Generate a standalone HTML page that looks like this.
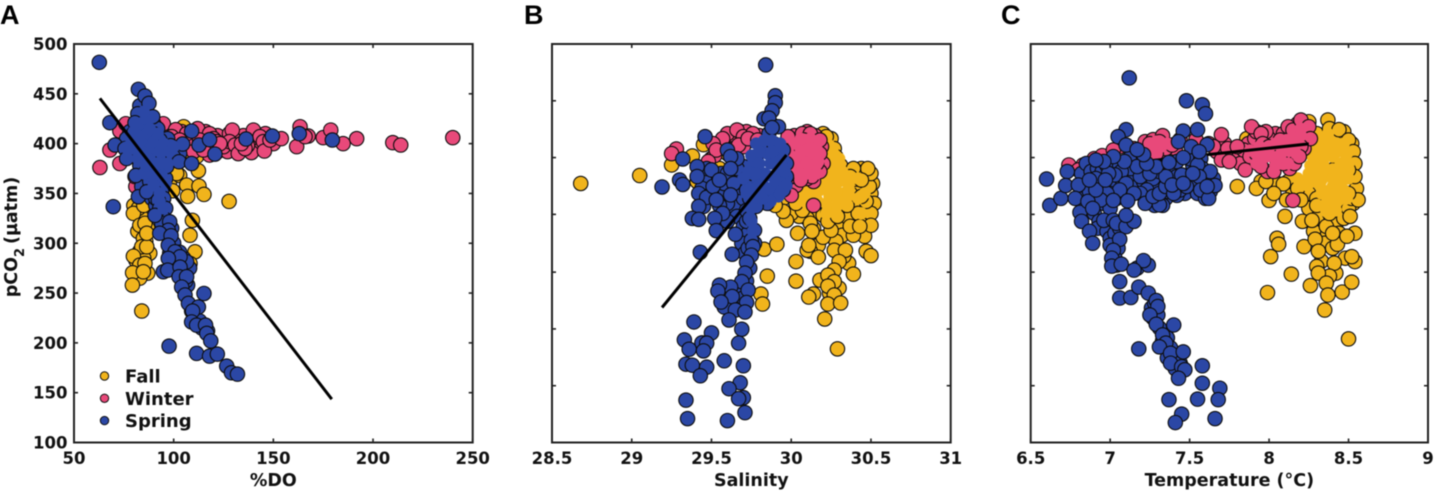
<!DOCTYPE html>
<html lang="en">
<head>
<meta charset="utf-8">
<title>pCO2 versus DO, salinity and temperature</title>
<style>
html,body{margin:0;padding:0;background:#fff;width:1434px;height:491px;overflow:hidden}
svg{display:block;filter:blur(.45px)}
text{font-family:"DejaVu Sans","Liberation Sans",sans-serif;font-weight:700;fill:#111}
.tick{font-size:16.5px}
.label{font-size:17.5px}
.legend{font-size:18px}
.letter{font-family:"Liberation Sans",sans-serif;font-size:27px;fill:#000}
</style>
</head>
<body>
<svg id="chart" xmlns="http://www.w3.org/2000/svg" width="1434" height="491" viewBox="0 0 1434 491"></svg>
<script>
/* Shared axes values */
const seasonNames = ['Fall','Winter','Spring'];
const yTicksLabeled = [100,150,200,250,300,350,400,450,500];
const yTicksUnlabeled = [100,157,214,271,329,386,443,500];
const xTicksDO = [50,100,150,200,250];
const xTicksSalinity = [28.5,29,29.5,30,30.5,31];
const xTicksTemperature = [6.5,7,7.5,8,8.5,9];
const xTickTextSalinity = ['28.5','29','29.5','30','30.5','31'];
const xTickTextTemperature = ['6.5','7','7.5','8','8.5','9'];

/* Panel A: [%DO, pCO2] */
const doFall = [[83,340],[86,332],[80,338],[88,328],[84,326],[87,315],[82,312],[86,302],[83,292],[88,290],[81,283],[87,270],[83,265],[85,285],[90,372],[95,370],[100,378],[105,385],[108,392],[112,395],[98,362],[103,368],[88,345],[112.4,372.8],[106.5,358.4],[112.7,357.4],[107,347],[115.2,349],[99.5,352.7],[127.8,342],[109.4,323],[108.2,308],[110.7,291.5],[108.2,279.7],[82.3,335],[79.8,330],[85,338],[83,318],[85.6,320],[84.8,305],[84,296.5],[86.5,296.5],[79.8,287],[83,278],[85.6,279.7],[79.4,270.4],[84.8,271.4],[79.3,258],[84,232],[86.5,310],[103,412],[105,417],[111.5,387],[101.5,370]];
const doWinter = [[97,412],[104,412],[110,412],[116,412],[122,408],[128,410],[135,408],[142,400],[138,403],[126,395],[122,392],[118,395],[105,395],[108,405],[112,415],[92,416],[88,418],[84,420],[78,414],[74,402],[150,400],[146,410],[139,391],[130,405],[133,393],[137,398],[127,392],[63,376],[68,393.6],[73,380],[73,412.7],[76,420],[81,357],[80.6,367],[94.8,420],[101,414],[99,407],[110,400],[118,410],[120,405],[121.6,402],[118,388.5],[110,392],[125,397],[129.4,413.6],[128,402],[130.8,398.6],[132.4,390],[135.8,395],[134,400],[140,413.6],[143.3,407],[145,402],[145.5,392.6],[148.3,403.6],[154,405],[161.7,397],[163.4,417],[167.5,407.6],[165.9,407],[175,406],[178.8,413.6],[185,400],[191.8,405],[209.9,401],[213.9,398.6],[240,406],[106.5,410],[113,403.6],[116.6,397],[123.2,400],[103,403.6],[114.9,393.6]];
const doSpring = [[78,402],[80,390],[83,378],[78,412],[84,425],[86,435],[83,438],[90,420],[92,415],[96,395],[97,405],[100,392],[103,390],[96,365],[90,355],[94,352],[89,345],[95,345],[91,338],[96,335],[92,330],[95,325],[99,315],[94,320],[100,300],[99,283],[101,278],[105,285],[104,270],[107,258],[106,262],[109,232],[110,228],[113,222],[114,215],[117,212],[104,275],[108,275],[103,291],[98,290],[87,365],[84,357],[91,345],[79.8,410],[84.8,417],[89.8,410],[93.1,403.6],[84.8,400],[89.8,390],[94.8,387],[84.8,387],[81.4,397],[86.5,373.5],[91.5,373.5],[96.5,377],[99.8,387],[88,362],[93,360],[76.4,405],[62.7,481.6],[68,421],[69.7,336.7],[70.6,398.6],[75.6,395],[76.4,385],[82.3,454.5],[85.6,447.8],[87.6,440.4],[89.5,427],[82,430],[80.6,421],[81,368],[82.3,346.7],[109,412.6],[104.5,399.6],[98.5,398],[102.7,381.8],[109,380],[112.7,398.6],[118,404],[120.7,389.5],[136.3,404.6],[149.5,407.6],[163,410],[179.6,403.6],[91.5,350.7],[86.5,351.7],[92.3,343],[93,335],[90.6,328],[98,321.6],[97.3,313],[93,310],[98.7,307.5],[97.3,298],[100.7,291.5],[106.5,281.4],[103.2,286.4],[97.3,284.8],[94.8,271.4],[97,273],[103.2,276],[102.7,266.4],[106.5,266.4],[104,256],[105.7,248],[107.4,239.6],[112.4,236],[115.2,249.6],[109.5,232],[109,221],[111.5,217.8],[116,217.8],[116.6,209.5],[118.6,202],[97.7,196.7],[111.5,189.4],[118,186.7],[121.9,188.7],[126.6,176.7],[129,170],[132,168.6]];
const doSpringCore = [[83,420],[86.5,410],[84,400],[88,395],[90,402],[87,385],[91,380],[84,392],[82,408],[93,392],[89,372],[86,425],[94,368],[91,362],[80,395],[78,398],[95,400],[93,380],[97,380],[88,368],[90,358],[93,350],[93,342],[95,335],[85,370],[82,385],[92,410],[88,415],[85,432],[98,392],[76,396],[86,378],[80,412],[100,397],[96,360]];

/* Panel B: [salinity, pCO2] */
const salFall = [[30.4,360],[30.44,375],[30.41,350],[30.46,337],[30.48,325],[30.45,318],[30.41,340],[30.34,345],[30.33,330],[30.3,318],[30.26,328],[30.16,330],[30.1,325],[30.05,327],[30,330],[30.14,315],[30.2,328],[30.36,325],[30.32,308],[30.28,302],[30.17,298],[30.12,292],[30.36,280],[30.33,287],[30.22,262],[30.3,255],[30.24,250],[30.51,360],[30.5,350],[30.52,340],[30.46,372],[30.35,372],[30.25,405],[30.2,410],[30.27,395],[30.31,378],[29.9,345],[29.86,340],[30.02,345],[29.95,345],[29.5,385],[29.55,375],[29.6,390],[28.68,360],[29.05,368],[29.25,378.6],[29.38,387.6],[29.45,399],[29.41,362],[29.83,294],[29.91,299],[29.85,267],[29.81,249],[29.82,239],[30.04,310],[30.1,293],[30.11,298],[30.03,281.6],[30.03,262],[30.17,286],[30.2,306],[30.12,320],[30.13,312],[30.18,263],[30.27,293],[30.34,293],[30.3,281.6],[30.27,273],[30.23,268],[30.27,261.5],[30.23,257],[30.14,249],[30.11,246],[30.27,248],[30.23,239],[30.31,240],[30.21,224],[30.29,194],[30.39,269],[30.47,292],[30.5,287.6],[30.46,307],[30.39,308],[30.37,317],[30.25,313],[30.42,330],[30.5,330],[30.5,318],[30.47,342],[30.49,357],[30.5,370],[30.48,375],[30.39,375],[30.37,367],[30.37,350],[30.35,338],[30.23,332],[30.23,322],[29.97,323],[29.95,332],[29.9,338],[30.07,333],[30.03,340],[30.22,407],[30.28,387],[30.44,347],[30.44,363.5],[30.29,327],[30.43,317]];
const salFallCore = [[30.26,373.6],[30.26,360],[30.18,353.5],[30.31,350],[30.33,363.5],[30.24,347],[30.16,343.5],[30.1,350],[30.18,367],[30.24,383.6],[30.29,338],[30.05,345],[30.1,340],[30.15,352],[30.22,340],[30.29,345],[30.32,372],[30.22,375],[30.27,380],[30.3,385],[30.15,360],[30.1,360],[30.05,355],[30.2,360],[30.36,355],[30.34,343],[30.28,330],[30.22,330],[30.38,365],[30.26,392],[30.24,398],[30.22,402],[30.42,365],[30.42,345],[30.46,350],[30.44,330],[30.24,366],[30.28,352],[30.22,358],[30.35,365],[30.3,362],[30.36,348],[30.25,355],[30.27,367]];
const salWinter = [[29.6,402],[29.63,409],[29.6,410],[29.68,412],[29.72,412],[29.55,400],[29.52,388],[29.76,403],[29.8,408],[29.64,395],[29.7,397],[29.99,400],[30.02,408],[30.15,408],[30.1,412],[30.07,410],[30.19,397],[30.2,380],[30.18,372],[30.14,362],[30.1,365],[30.03,358],[29.98,365],[29.98,385],[29.28,394.6],[29.25,390],[29.66,413.7],[29.57,405],[29.51,400],[29.53,393.6],[29.48,382],[29.7,407],[29.76,410],[29.67,398.6],[29.73,405],[29.79,403.6],[29.98,407],[30.12,410],[30.18,403.6],[30,348],[30.14,338],[30.03,367],[30.01,393.6],[30.06,397],[30.12,397],[30.18,390],[30.16,380],[30.1,373.6],[30.03,377],[30.01,370],[30.08,403.6],[30.13,367],[30.06,363.5]];
const salWinterCore = [[30.1,387],[30.06,383.6],[30.14,387],[30.1,393.6],[30.09,378.6],[30.02,400],[30.06,405],[30.12,405],[30.16,400],[30.17,392],[30.02,385],[30.02,372],[30.06,372],[30.14,375],[30.17,382],[30.1,380],[30.06,392],[30.16,370],[30.1,370],[30.13,395]];
const salSpring = [[29.51,367],[29.56,370],[29.67,367],[29.7,377],[29.64,350],[29.56,347],[29.64,337],[29.66,327],[29.6,322],[29.7,317],[29.73,310],[29.69,300],[29.71,290],[29.58,360],[29.6,370],[29.66,375],[29.66,385],[29.7,345],[29.68,356],[29.6,340],[29.55,338],[29.46,362],[29.47,375],[29.44,355],[29.45,337],[29.5,350],[29.72,365],[29.74,345],[29.72,322],[29.77,300],[29.73,295],[29.74,275],[29.66,250],[29.72,262],[29.7,245],[29.6,247],[29.57,250],[29.58,236],[29.83,425],[29.86,410],[29.89,418],[29.84,479],[29.9,448],[29.9,441],[29.88,433],[29.86,425.6],[29.92,417],[29.88,416],[29.46,407],[29.32,384.6],[29.19,356.5],[29.3,363.5],[29.32,359],[29.6,393.6],[29.62,387],[29.5,373.6],[29.41,377],[29.41,367],[29.62,375],[29.42,350],[29.47,346],[29.42,337],[29.38,325],[29.42,324],[29.51,357],[29.55,363.5],[29.64,360],[29.62,348.5],[29.72,353.5],[29.53,343.5],[29.57,330],[29.52,325],[29.53,312.7],[29.65,309],[29.43,291],[29.63,289],[29.72,333],[29.74,325],[29.77,313],[29.75,303],[29.76,296.6],[29.75,288],[29.72,281],[29.71,270],[29.69,261.5],[29.62,256],[29.55,258],[29.54,252],[29.73,253],[29.63,246.5],[29.56,241],[29.72,240.5],[29.65,233],[29.71,231],[29.61,223],[29.69,213.7],[29.39,221],[29.5,210],[29.33,203],[29.44,200],[29.47,199.7],[29.36,193.6],[29.45,192],[29.67,199.7],[29.58,182],[29.7,177],[29.34,178.6],[29.38,177.6],[29.47,175.6],[29.43,167],[29.68,160],[29.61,154],[29.7,145],[29.67,144],[29.34,142.5],[29.71,130],[29.35,124],[29.6,122],[29.78,387],[29.83,397],[29.89,400],[29.95,393.6],[29.97,380],[29.97,367],[29.95,353.5],[29.87,347],[29.78,350],[29.76,370],[29.85,340],[29.78,337]];
const salSpringCore = [[29.87,380],[29.83,370],[29.91,370],[29.85,390],[29.91,387],[29.89,357],[29.83,357],[29.76,380],[29.91,397],[29.94,360],[29.79,363.5],[29.78,400],[29.83,403],[29.88,403],[29.93,400],[29.95,385],[29.96,372],[29.97,358],[29.92,347],[29.87,342],[29.82,345],[29.77,345],[29.74,355],[29.73,372],[29.75,388],[29.8,392],[29.8,380],[29.78,370],[29.85,368],[29.8,358],[29.86,355],[29.9,363],[29.94,378],[29.88,392],[29.93,350],[29.75,335],[29.75,322],[29.76,312],[29.8,350],[29.7,365],[29.72,350]];

/* Panel C: [temperature, pCO2] */
const tempFall = [[8.25,350],[8.3,345],[8.35,325],[8.43,322],[8.47,325],[8.53,340],[8.5,335],[8.44,310],[8.33,312],[8.28,312],[8.35,300],[8.4,295],[8.48,285],[8.42,270],[8.33,282],[8.15,350],[8.05,360],[7.95,362],[7.9,385],[8.12,362],[8.18,355],[8.25,335],[8.33,335],[8.3,410],[8.42,405],[8.47,412],[8.28,400],[8.52,400],[8.55,355],[8.52,345],[8.3,325],[7.8,357],[7.92,355],[8,343],[7.98,362],[8.09,359.5],[8.03,350],[8.1,327],[8.21,322],[8.27,323],[8.2,343.5],[8.11,343.5],[8.05,305],[8.06,299],[8.01,286.6],[8.14,269],[7.99,250.5],[8.22,296.6],[8.29,304],[8.31,292],[8.3,276.6],[8.41,280],[8.38,267],[8.31,270],[8.26,257.5],[8.36,260],[8.37,248],[8.35,233],[8.46,251],[8.52,261],[8.54,281.6],[8.52,286.6],[8.43,299],[8.54,310],[8.49,307],[8.5,204],[8.36,317],[8.4,310],[8.51,327],[8.56,343.5],[8.5,350],[8.37,348],[8.3,338],[8.38,330],[8.37,423.7],[8.38,415],[8.44,414],[8.5,403.6],[8.53,392],[8.54,380],[8.54,367],[8.25,422],[7.86,405],[8.31,387],[8.29,367],[8.4,373.6],[8.5,373.6]];
const tempFallCore = [[8.38,400],[8.4,387],[8.34,380],[8.28,373.6],[8.45,380],[8.38,370],[8.47,367],[8.33,363.5],[8.4,357],[8.47,353.5],[8.36,340],[8.44,343.5],[8.42,333],[8.33,350],[8.49,390],[8.25,370],[8.33,405],[8.37,410],[8.43,400],[8.43,392],[8.37,392],[8.3,392],[8.28,382],[8.33,370],[8.45,370],[8.4,365],[8.5,380],[8.5,365],[8.45,358],[8.36,352],[8.28,362],[8.32,358],[8.42,350],[8.38,345],[8.36,332],[8.42,340],[8.48,390],[8.22,362],[8.18,365],[8.49,345],[8.47,400],[8.32,395],[8.34,388],[8.29,376],[8.3,370],[8.26,378],[8.24,358],[8.3,400],[8.27,388]];
const tempWinter = [[7.2,395],[7.22,402],[7.27,404],[7.33,408],[7.27,395],[7.33,388],[7.41,395],[7.44,404],[7.62,400],[7.67,392],[7.72,400],[7.79,385],[7.82,380],[7.87,400],[7.91,405],[7.93,380],[7.99,372],[8.05,382],[8.13,375],[8.04,410],[8.0,405],[8.09,410],[8.14,405],[8.18,420],[8.23,410],[8.18,400],[8.22,395],[7.98,412],[7.92,412],[6.9,385],[6.95,388],[7.06,397],[7.15,395],[8.12,385],[8.06,395],[6.74,378.6],[6.83,378.6],[6.8,373.6],[7.02,393.6],[7.25,400],[7.31,402],[7.35,395],[7.29,390],[7.39,398.6],[7.7,409],[7.65,397],[7.74,395],[7.7,383.6],[7.75,382],[7.85,373.6],[7.89,417],[7.95,410],[7.96,400],[7.84,393.6],[7.88,387],[7.95,377],[8.03,372],[8.09,380],[8.16,380],[8,397],[8.07,403.6],[8.12,417],[8.15,413.7],[8.2,423.7],[8.25,417],[8.26,405],[8.2,397],[8.15,343],[7.8,397],[7.92,390],[8.19,387],[7.54,404]];
const tempWinterCore = [[8.02,387],[8.11,393.6],[8.07,387],[8.15,397],[7.98,387],[8.17,407],[8.11,403.6],[7.32,397],[7.88,393],[7.94,397],[8.0,397],[8.04,400],[8.08,397],[8.13,395],[8.17,390],[8.12,380],[8.04,378],[7.92,380],[8.2,408],[8.2,415],[7.27,398],[7.36,400],[7.29,402]];
const tempSpring = [[6.82,370],[6.85,380],[6.88,372],[6.92,375],[6.95,372],[6.98,378],[7.0,375],[7.03,380],[7.06,378],[7.09,374],[7.12,368],[7.15,365],[7.18,358],[7.13,375],[7.12,385],[7.06,362],[7.03,357],[6.99,360],[6.95,355],[6.92,345],[6.96,340],[7.0,335],[7.04,345],[7.08,350],[7.0,350],[6.84,350],[6.8,345],[6.87,352],[6.83,338],[6.9,330],[6.93,322],[6.92,315],[6.98,312],[7.0,305],[7.03,310],[7.06,315],[7.05,295],[7.03,285],[7.0,298],[7.04,278],[7.17,275],[7.24,278],[7.21,362],[7.25,360],[7.28,362],[7.3,357],[7.33,350],[7.35,345],[7.3,345],[7.26,342],[7.24,350],[7.28,338],[7.33,338],[7.36,352],[7.38,365],[7.4,360],[7.42,355],[7.44,350],[7.46,355],[7.44,362],[7.41,372],[7.48,365],[7.5,360],[7.47,350],[7.42,348],[7.27,365],[7.31,372],[7.34,375],[7.38,378],[7.42,382],[7.52,378],[7.5,385],[7.57,385],[7.58,375],[7.6,365],[7.63,362],[7.58,360],[7.55,358],[7.6,350],[7.63,352],[7.55,350],[7.65,365],[7.6,345],[7.26,235],[7.27,225],[7.28,240],[7.3,228],[7.31,215],[7.33,202],[7.36,205],[7.38,195],[7.42,185],[7.44,180],[7.36,185],[7.41,174],[7.19,367],[7.25,370],[7.23,353.5],[7.19,350],[7.22,340],[7.31,338.5],[7.27,347],[7.31,350],[7.35,357],[7.42,367],[7.45,368.6],[7.44,353.5],[7.48,357],[7.4,350],[7.35,367],[7.55,378.6],[7.63,372],[7.56,367],[7.57,353.5],[7.66,358],[7.62,345],[7.61,357],[7.07,372],[7.03,368.6],[6.99,370],[7.1,360],[7.15,350],[7.06,353.5],[6.98,350],[6.91,365],[7.29,377],[7.17,377],[7.23,380],[7.52,370],[7.39,358.5],[7.46,360],[6.94,343.5],[7.12,466],[7.48,443],[7.58,439],[7.6,430],[7.1,414],[7.05,407],[7.1,398.6],[7.46,412.7],[7.55,414],[7.43,402],[7.51,397],[7.61,399],[7.56,392],[7.46,386],[7.37,381],[7.21,389],[7.17,394],[7.09,382],[7.02,387],[6.96,382],[6.91,383.6],[6.6,364.5],[6.62,338],[6.69,345],[6.73,372],[6.72,358],[6.8,358.5],[6.78,345],[6.81,331],[6.82,322],[6.87,312],[6.89,300],[6.86,342],[6.89,335],[6.91,353.5],[6.87,363.5],[6.97,363.5],[7.02,343],[7.11,342.5],[6.96,323],[7.02,323],[7.04,320],[7.1,316.7],[7.15,322],[7.1,328],[7.06,304],[7.02,293],[7.01,285],[7.01,277],[7.07,279],[7.21,282.6],[7.15,273],[7.06,261.5],[7.06,245],[7.13,245.5],[7.18,256],[7.24,250],[7.29,242.5],[7.3,236.5],[7.25,228],[7.29,218.7],[7.4,218],[7.33,208],[7.35,199.7],[7.31,196],[7.18,194],[7.38,189.6],[7.46,191],[7.38,179.6],[7.45,176],[7.47,173],[7.43,164.5],[7.58,177],[7.58,159.5],[7.69,154.5],[7.68,143],[7.55,143.5],[7.37,143],[7.45,128.5],[7.41,120],[7.66,124]];

/* Trend lines: [x, pCO2] end points */
const doTrend = [[63,445.4],[179.3,143.5]];
const salTrend = [[29.19,235.5],[29.97,388.6]];
const tempTrend = [[7.2,382],[8.25,399.7]];

const svgNS = 'http://www.w3.org/2000/svg';
const root = document.getElementById('chart');
const colorFall = '#f1b41c';
const colorWinter = '#e8497a';
const colorSpring = '#2b47a5';

function make(tag, parent, attrs, txt){
  const el = document.createElementNS(svgNS, tag);
  for (const k in attrs) el.setAttribute(k, attrs[k]);
  if (txt !== undefined) el.textContent = txt;
  parent.appendChild(el);
  return el;
}
function linear(d0, d1, r0, r1){
  return function(v){ return r0 + (v - d0) * (r1 - r0) / (d1 - d0); };
}
function drawPoints(g, pts, sx, sy, color, outlined, markName){
  pts.forEach(function(p){
    const c = make('circle', g, {cx:sx(p[0]), cy:sy(p[1]), r:outlined ? 7.2 : 6.2, fill:color});
    if (outlined){ c.setAttribute('stroke','#0d0d0d'); c.setAttribute('stroke-width','1.1'); }
    
    
  });
}
function drawTrend(g, pts, sx, sy, panelId){
  const l = make('line', g, {x1:sx(pts[0][0]), y1:sy(pts[0][1]), x2:sx(pts[1][0]), y2:sy(pts[1][1]), stroke:'#000', 'stroke-width':3});
  
  
}
function drawAxes(g, cfg, sx, sy){
  const L = cfg.left, R = cfg.right, T = 44, B = 442.5;
  cfg.yTicks.forEach(function(v){
    const y = sy(v);
    make('line', g, {x1:L, x2:L+4, y1:y, y2:y, stroke:'#222', 'stroke-width':1.6});
    make('line', g, {x1:R-4, x2:R, y1:y, y2:y, stroke:'#222', 'stroke-width':1.6});
    if (cfg.yLabels){
      const t = make('text', g, {x:L-6.5, y:y+6, 'text-anchor':'end', class:'tick'}, String(v));
      
      
    }
  });
  cfg.xTicks.forEach(function(v, i){
    const x = sx(v);
    make('line', g, {x1:x, x2:x, y1:T, y2:T+4, stroke:'#222', 'stroke-width':1.6});
    make('line', g, {x1:x, x2:x, y1:B-4, y2:B, stroke:'#222', 'stroke-width':1.6});
    const t = make('text', g, {x:x, y:464, 'text-anchor':'middle', class:'tick'}, cfg.xText[i]);
    
    
  });
  const f = make('rect', g, {x:L, y:T, width:R-L, height:B-T, fill:'none', stroke:'#222', 'stroke-width':2});
  
  
  const xl = make('text', g, {x:(L+R)/2, y:486, 'text-anchor':'middle', class:'label'}, cfg.xTitle);
  
  
  const pl = make('text', g, {x:cfg.letterX, y:24, class:'letter'}, cfg.letter);
  
  
}
function drawPanel(cfg){
  const g = make('g', root, {});
  
  
  const sx = linear(cfg.xDomain[0], cfg.xDomain[1], cfg.left, cfg.right);
  const sy = linear(100, 500, 442.5, 44);
  drawPoints(g, cfg.fall, sx, sy, colorFall, true, 'fall-point');
  drawPoints(g, cfg.fallCore, sx, sy, colorFall, false, 'fall-point');
  drawPoints(g, cfg.winter, sx, sy, colorWinter, true, 'winter-point');
  drawPoints(g, cfg.winterCore, sx, sy, colorWinter, false, 'winter-point');
  if (cfg.lineUnderSpring) drawTrend(g, cfg.trend, sx, sy, cfg.id);
  drawPoints(g, cfg.spring, sx, sy, colorSpring, true, 'spring-point');
  drawPoints(g, cfg.springCore, sx, sy, colorSpring, false, 'spring-point');
  if (!cfg.lineUnderSpring) drawTrend(g, cfg.trend, sx, sy, cfg.id);
  drawAxes(g, cfg, sx, sy);
}

drawPanel({id:'panel-a', letter:'A', letterX:0, left:74, right:472.7, xDomain:[50,250], xTicks:xTicksDO, xText:xTicksDO.map(String), yTicks:yTicksLabeled, yLabels:true, xTitle:'%DO', fall:doFall, fallCore:[], winter:doWinter, winterCore:[], spring:doSpring, springCore:doSpringCore, trend:doTrend, lineUnderSpring:false});
drawPanel({id:'panel-b', letter:'B', letterX:524, left:552, right:950.7, xDomain:[28.5,31], xTicks:xTicksSalinity, xText:xTickTextSalinity, yTicks:yTicksUnlabeled, yLabels:false, xTitle:'Salinity', fall:salFall, fallCore:salFallCore, winter:salWinter, winterCore:salWinterCore, spring:salSpring, springCore:salSpringCore, trend:salTrend, lineUnderSpring:false});
drawPanel({id:'panel-c', letter:'C', letterX:1001, left:1030.7, right:1428, xDomain:[6.5,9], xTicks:xTicksTemperature, xText:xTickTextTemperature, yTicks:yTicksUnlabeled, yLabels:false, xTitle:'Temperature (°C)', fall:tempFall, fallCore:tempFallCore, winter:tempWinter, winterCore:tempWinterCore, spring:tempSpring, springCore:[], trend:tempTrend, lineUnderSpring:true});

/* Y axis title */
const yTitle = make('text', root, {transform:'translate(17 237) rotate(-90)', 'text-anchor':'middle', class:'label'});


make('tspan', yTitle, {}, 'pCO');
make('tspan', yTitle, {dy:7, 'font-size':'13px'}, '2');
make('tspan', yTitle, {dy:-7, dx:4}, '(µatm)');

/* Legend */
const legend = make('g', root, {});


const legendColors = [colorFall, colorWinter, colorSpring];
seasonNames.forEach(function(name, i){
  const y = 376 + i * 22.3;
  const item = make('g', legend, {});
  
  
  make('circle', item, {cx:104.5, cy:y, r:4.2, fill:legendColors[i], stroke:'#111', 'stroke-width':1});
  make('text', item, {x:125, y:y+6.5, class:'legend'}, name);
});
</script>
</body>
</html>
